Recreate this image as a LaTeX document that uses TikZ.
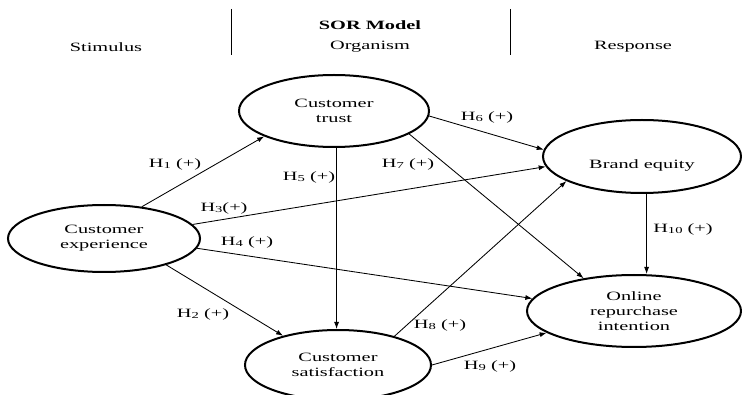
\documentclass[tikz,border=0pt]{standalone}
\usepackage{graphicx}
\usepackage{fontspec}
\setmainfont{Liberation Serif}[FakeStretch=1.6]
\usetikzlibrary{shapes.geometric,arrows.meta}
% hypothesis label: H with a small lowered index
\newcommand{\hyp}[1]{H\raisebox{-0.12em}{\scalebox{0.72}{#1}}}
\begin{document}
\begin{tikzpicture}[x=1pt,y=-1pt,
  ell/.style={ellipse, draw, line width=2pt, inner sep=0pt},
  txt/.style={align=center, font=\fontsize{12.7}{15}\selectfont, inner sep=0pt},
  arr/.style={-{Latex[length=7pt,width=5pt]}, line width=0.85pt},
  sep/.style={line width=0.8pt}]
\useasboundingbox (0,0) rectangle (742,395);

% header: the three SOR columns
\node[txt, font=\fontsize{12.7}{15}\selectfont\bfseries] (sor) at (370,25) {SOR Model};
\node[txt] (stim) at (106,47) {Stimulus};
\node[txt] (org) at (370,47) {Organism};
\node[txt] (resp) at (633,47) {Response};
\coordinate (s1a) at (231,9);  \coordinate (s1b) at (231,55);
\coordinate (s2a) at (510,9);  \coordinate (s2b) at (510,55);
\draw[sep] (s1a) -- (s1b);
\draw[sep] (s2a) -- (s2b);

% constructs
\node[ell, minimum width=190pt, minimum height=72pt] (trust) at (334,111) {};
\node[txt] (trustL) at (trust) {Customer\\trust};
\node[ell, minimum width=192pt, minimum height=67pt] (exp) at (104,238.5) {};
\node[txt] (expL) at (exp) {Customer\\experience};
\node[ell, minimum width=198pt, minimum height=73pt] (brand) at (642,156.5) {};
\node[txt] (brandL) at (642,165) {Brand equity};
\node[ell, minimum width=214pt, minimum height=72pt] (online) at (634,311) {};
\node[txt] (onlineL) at (online) {Online\\repurchase\\intention};
\node[ell, minimum width=186pt, minimum height=70pt] (sat) at (338,365) {};
\node[txt] (satL) at (sat) {Customer\\satisfaction};

% hypothesised paths
\draw[arr] (exp.40) -- (trust.200);
\draw[arr] (exp.337.5) -- (sat.152);
\draw[arr] (exp.9.4) -- (brand.186.8);
\draw[arr] (exp.354.3) -- (online.173.6);
\draw[arr] (trust.274.5) -- (trust.274.5 |- sat.north);
\draw[arr] (trust.357) -- (brand.176.2);
\draw[arr] (trust.343.4) -- (online.147.8);
\draw[arr] (sat.27.8) -- (brand.198.3);
\draw[arr] (sat.0.6) -- (online.194.4);
\draw[arr] (brand.277.8) -- (brand.277.8 |- online.north);

% path labels
\node[txt] (h1) at (175,164) {\hyp{1} (+)};
\node[txt] (h2) at (203,314) {\hyp{2} (+)};
\node[txt] (h3) at (224,208) {\hyp{3}(+)};
\node[txt] (h4) at (247,242) {\hyp{4} (+)};
\node[txt] (h5) at (309,177) {\hyp{5} (+)};
\node[txt] (h6) at (487,117) {\hyp{6} (+)};
\node[txt] (h7) at (408,164) {\hyp{7} (+)};
\node[txt] (h8) at (440,325) {\hyp{8} (+)};
\node[txt] (h9) at (490,366) {\hyp{9} (+)};
\node[txt] (h10) at (683,229) {\hyp{10} (+)};
\end{tikzpicture}
\end{document}
